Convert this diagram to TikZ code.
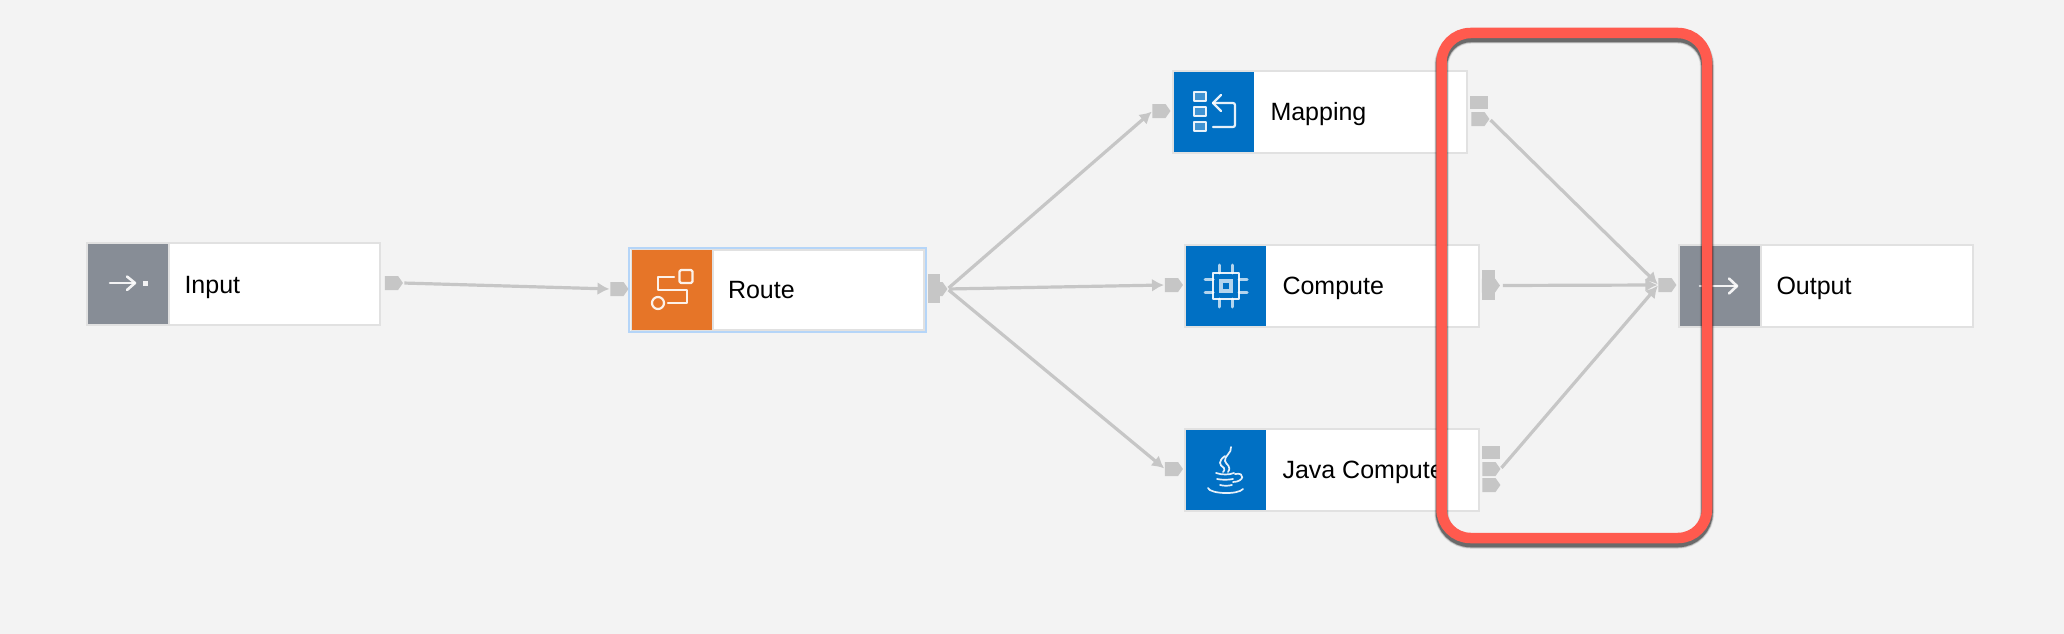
\documentclass[tikz,border=0pt]{standalone}
\usepackage{fontspec}
\setmainfont{Liberation Sans}
\usetikzlibrary{shapes.symbols,arrows.meta}
\definecolor{canvas}{HTML}{F3F3F3}
\definecolor{edgeline}{HTML}{E1E1E1}
\definecolor{portgrey}{HTML}{C6C6C6}
\definecolor{wiregrey}{HTML}{C6C6C6}
\definecolor{slategrey}{HTML}{878D96}
\definecolor{nodeblue}{HTML}{0070C4}
\definecolor{nodeorange}{HTML}{E67528}
\definecolor{selectblue}{HTML}{B5D5F8}
\definecolor{alertred}{HTML}{FF5A4E}
\tikzset{
  x=1pt,y=-1pt,
  cardbox/.style={draw=edgeline,line width=1.6pt,fill=white,minimum width=293.5pt,minimum height=81.5pt,inner sep=0pt,outer sep=0pt},
  iconbox/.style={minimum width=80pt,minimum height=80pt,inner sep=0pt,outer sep=0pt},
  greyicon/.style={iconbox,fill=slategrey},
  blueicon/.style={iconbox,fill=nodeblue},
  orangeicon/.style={iconbox,fill=nodeorange},
  cardtext/.style={anchor=base west,inner sep=0pt,outer sep=0pt,font=\fontsize{25pt}{28pt}\selectfont,text=black},
  arrowport/.style={shape=signal,signal to=east,signal pointer angle=110,fill=portgrey,minimum width=18pt,minimum height=14pt,inner sep=0pt,outer sep=0pt},
  blockport/.style={fill=portgrey,inner sep=0pt,outer sep=0pt},
  wire/.style={draw=wiregrey,line width=3.2pt,-{Latex[length=12pt,width=13pt]},shorten <=1.5pt,shorten >=1pt},
  glyph/.style={draw=white,line width=2.2pt,line cap=round,line join=round,opacity=.9},
  thinglyph/.style={glyph,line width=1.7pt},
  separator/.style={draw=edgeline,line width=2pt},
}
\begin{document}
\begin{tikzpicture}
\useasboundingbox[fill=canvas] (0,0) rectangle (2064,634);

% cards
\node[cardbox] (inputbox) at (233.5,284) {};
\node[greyicon] (inputicon) at (128,284) {};
\node[cardtext] (inputtext) at (184.5,293) {Input};

\node[draw=selectblue,line width=1.6pt,minimum width=297.5pt,minimum height=84.5pt,inner sep=0pt,outer sep=0pt] (routeselect) at (777.5,290) {};
\node[cardbox,minimum width=292.5pt,minimum height=80.5pt,line width=2pt] (routebox) at (778,290) {};
\node[orangeicon] (routeicon) at (672,290) {};
\node[cardtext] (routetext) at (728,298) {Route};

\node[cardbox] (mappingbox) at (1320,112) {};
\node[blueicon] (mappingicon) at (1214,112) {};
\node[cardtext] (mappingtext) at (1270.5,120) {Mapping};

\node[cardbox] (computebox) at (1332,286) {};
\node[blueicon] (computeicon) at (1226,286) {};
\node[cardtext] (computetext) at (1282.5,294.5) {Compute};

\node[cardbox] (javabox) at (1332,470) {};
\node[blueicon] (javaicon) at (1226,470) {};
\node[cardtext] (javatext) at (1282.5,478.5) {Java Compute};

\node[cardbox] (outputbox) at (1826,286) {};
\node[greyicon] (outputicon) at (1720,286) {};
\node[cardtext] (outputtext) at (1776.5,294.5) {Output};

% separators
\draw[separator] ([xshift=1pt]inputicon.north east) -- ([xshift=1pt]inputicon.south east);
\draw[separator] ([xshift=1pt]routeicon.north east) -- ([xshift=1pt]routeicon.south east);
\draw[separator] ([xshift=1pt]outputicon.north east) -- ([xshift=1pt]outputicon.south east);

% icon: input
\draw[glyph,line width=2.6pt] (110,283) -- (134,283);
\draw[glyph,line width=2.6pt] (127,276.5) -- (135,283) -- (127,290);
\fill[white,opacity=.9] (142.5,280.5) rectangle (147.5,285.5);

% icon: output
\draw[glyph,line width=2.6pt] (1700,286) -- (1736,286);
\draw[glyph,line width=2.6pt] (1729,278.5) -- (1737,286) -- (1729,293.5);

% icon: route
\draw[glyph,rounded corners=1.5pt] (679.5,270) rectangle (692.5,283);
\draw[glyph] (658,303) circle (6);
\draw[glyph] (674,277) -- (658,277) -- (658,290) -- (687,290) -- (687,303) -- (668,303);

% icon: mapping
\draw[glyph,fill=white,fill opacity=.25] (1194,92) rectangle (1206,101);
\draw[glyph,fill=white,fill opacity=.25] (1194,107) rectangle (1206,116);
\draw[glyph,fill=white,fill opacity=.25] (1194,122) rectangle (1206,131);
\draw[glyph] (1221,95) -- (1213,103) -- (1221,111);
\draw[glyph,rounded corners=2pt] (1213,103) -- (1235,103) -- (1235,127) -- (1213,127);

% icon: compute
\foreach \dx in {-6.5,6.5}{
  \draw[glyph,opacity=.7,line width=3pt] (1226+\dx,265) -- (1226+\dx,273);
  \draw[glyph,opacity=.7,line width=3pt] (1226+\dx,299) -- (1226+\dx,307);
  \draw[glyph,opacity=.7,line width=3pt] (1205,286+\dx) -- (1213,286+\dx);
  \draw[glyph,opacity=.7,line width=3pt] (1239,286+\dx) -- (1247,286+\dx);
}
\draw[glyph] (1213,273) rectangle (1239,299);
\draw[draw=white,line width=4pt,opacity=.7] (1221,281) rectangle (1231,291);

% icon: java
\draw[thinglyph] (1231,447) .. controls (1232,453) and (1224,456) .. (1225,461) .. controls (1226,465) and (1232,466) .. (1228,472);
\draw[thinglyph] (1225,456) .. controls (1218,461) and (1219,465) .. (1224,468) .. controls (1225,470) and (1224,471) .. (1223,472);
\draw[thinglyph] (1216,473) .. controls (1222,475) and (1229,475) .. (1234,473);
\draw[thinglyph] (1217,479) .. controls (1222,480) and (1228,480) .. (1233,479);
\draw[thinglyph] (1220,485) .. controls (1224,486) and (1228,486) .. (1232,485);
\draw[thinglyph] (1208,488) .. controls (1210,494) and (1238,495) .. (1243,489);
\draw[thinglyph] (1235,474) .. controls (1246,472) and (1244,482) .. (1233,482);

% ports
\node[arrowport] (inputout) at (391.5,283) {};
\node[arrowport] (routein) at (617,289) {};
\node[blockport,minimum width=12pt,minimum height=29pt] (routeoutblock) at (934,288.5) {};
\node[arrowport] (routeout) at (936,289) {};
\node[arrowport] (mappingin) at (1159,111) {};
\node[blockport,minimum width=18pt,minimum height=13pt] (mappingoutblock) at (1479,102.5) {};
\node[arrowport] (mappingout) at (1478,119) {};
\node[arrowport] (computein) at (1171.5,285) {};
\node[blockport,minimum width=13pt,minimum height=30pt] (computeoutblock) at (1488.5,285) {};
\node[arrowport] (computeout) at (1488.5,285.5) {};
\node[arrowport] (javain) at (1171.5,469) {};
\node[blockport,minimum width=18pt,minimum height=13pt] (javaoutblock) at (1491,452.5) {};
\node[arrowport] (javaout) at (1489,469) {};
\node[arrowport] (javaouttwo) at (1489,485) {};
\node[arrowport] (outputin) at (1665,285) {};

% connectors
\draw[wire] (inputout.east) -- (routein.west);
\draw[wire] (routeout.east) -- (mappingin.west);
\draw[wire] (routeout.east) -- (computein.west);
\draw[wire] (routeout.east) -- (javain.west);
\draw[wire] (mappingout.east) -- (outputin.west);
\draw[wire,shorten <=3pt] (computeout.east) -- (outputin.west);
\draw[wire] (javaout.east) -- (outputin.west);

% highlight
\begin{scope}[yshift=-3.5pt]
\draw[black,opacity=.08,line width=14.5pt,rounded corners=29pt] (1441.5,33) rectangle (1707,538);
\draw[black,opacity=.2,line width=13pt,rounded corners=29pt] (1441.5,33) rectangle (1707,538);
\draw[black,opacity=.4,line width=11.5pt,rounded corners=29pt] (1441.5,33) rectangle (1707,538);
\end{scope}
\draw[alertred,line width=10.5pt,rounded corners=29pt] (1441.5,33) rectangle (1707,538);
\end{tikzpicture}
\end{document}
